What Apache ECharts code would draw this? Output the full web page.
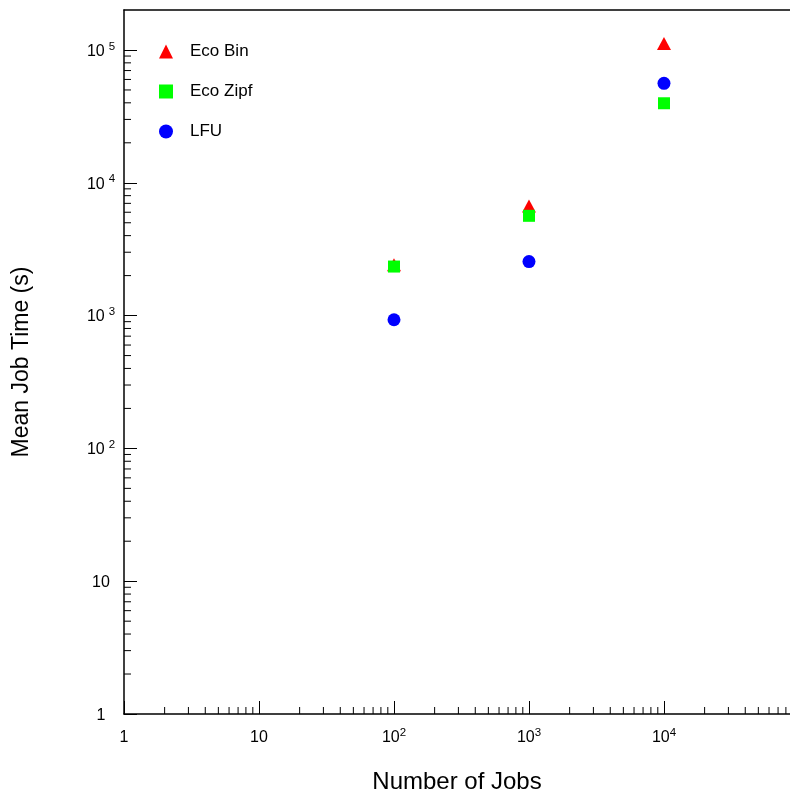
<!DOCTYPE html>
<html>
<head>
<meta charset="utf-8">
<script src="https://cdn.jsdelivr.net/npm/echarts@6/dist/echarts.min.js"></script>
<style>html,body{margin:0;padding:0;background:#fff}#c{width:790px;height:799px}</style>
</head>
<body>
<div id="c"></div>
<script>
// Data (log-log)
const jobs = [100, 1000, 10000];
const ecoBin = [2410, 6700, 112000];
const ecoZipf = [2340, 5640, 39700];
const lfu = [930, 2550, 56100];
const seriesNames = ['Eco Bin', 'Eco Zipf', 'LFU'];

// axis ranges (x axis runs past the right edge of the picture)
const xMin = 1, xMax = 85800;
const yMin = 1, yMax = 200000;

// minor tick values
const xMinor = [];
for (let d = 1; d <= 10000; d *= 10) for (let k = 2; k <= 9; k++) xMinor.push(k * d);
const yMinor = [];
for (let d = 1; d <= 10000; d *= 10) for (let k = 2; k <= 9; k++) yMinor.push(k * d);

const FONT = 'Liberation Sans, Arial, sans-serif';

function supLabel(v, gap) {
  const e = Math.round(Math.log10(v));
  if (e === 0) return '{b|1}';
  if (e === 1) return '{b|10}';
  return '{b|10}' + (gap ? '{g|}' : '') + '{s|' + e + '}';
}
const rich = {
  b: { fontSize: 16, fontFamily: FONT, color: '#000', verticalAlign: 'bottom', lineHeight: 19 },
  s: { fontSize: 11.5, fontFamily: FONT, color: '#000', verticalAlign: 'top', lineHeight: 19 },
  g: { width: 4 }
};

const chart = echarts.init(document.getElementById('c'), null, { renderer: 'canvas' });
chart.setOption({
  animation: false,
  backgroundColor: '#fff',
  grid: { left: 124, top: 10, right: 0, bottom: 84.5 },
  legend: {
    data: seriesNames,
    orient: 'vertical',
    left: 154, top: 38,
    itemWidth: 14, itemHeight: 14, itemGap: 23,
    textStyle: { fontSize: 17, lineHeight: 14, fontFamily: FONT, color: '#000', padding: [0, 0, 0, 12] }
  },
  xAxis: [{
    type: 'log', logBase: 10, min: xMin, max: xMax,
    name: 'Number of Jobs', nameLocation: 'middle', nameGap: 56,
    nameTextStyle: { fontSize: 24, fontFamily: FONT, color: '#000' },
    axisLine: { lineStyle: { color: '#000', width: 1.5 } },
    axisTick: { inside: true, length: 13, lineStyle: { color: '#000', width: 1 } },
    splitLine: { show: false },
    axisLabel: { margin: 13, formatter: v => supLabel(v, false), rich: rich, showMaxLabel: false }
  }, {
    type: 'log', logBase: 10, min: xMin, max: xMax, position: 'top',
    axisLine: { lineStyle: { color: '#000', width: 1.5 } },
    axisTick: { show: false }, axisLabel: { show: false }, splitLine: { show: false }
  }],
  yAxis: {
    type: 'log', logBase: 10, min: yMin, max: yMax,
    name: 'Mean Job Time (s)', nameLocation: 'middle', nameGap: 91,
    nameTextStyle: { fontSize: 23, fontFamily: FONT, color: '#000' },
    axisLine: { lineStyle: { color: '#000', width: 1.5 } },
    axisTick: { inside: true, length: 13, lineStyle: { color: '#000', width: 1 } },
    splitLine: { show: false },
    axisLabel: { margin: 23, align: 'center', formatter: v => supLabel(v, true), rich: rich, showMaxLabel: false }
  },
  series: [
    { name: 'Eco Bin', type: 'scatter', symbol: 'triangle', symbolSize: [14, 13],
      itemStyle: { color: '#ff0000', opacity: 1 }, data: jobs.map((x, i) => [x, ecoBin[i]]) },
    { name: 'Eco Zipf', type: 'scatter', symbol: 'rect', symbolSize: 12,
      itemStyle: { color: '#00ff00', opacity: 1 }, data: jobs.map((x, i) => [x, ecoZipf[i]]) },
    { name: 'LFU', type: 'scatter', symbol: 'circle', symbolSize: 13,
      itemStyle: { color: '#0000ff', opacity: 1 }, data: jobs.map((x, i) => [x, lfu[i]]) },
    { type: 'custom', silent: true, clip: false,
      data: xMinor.map(v => [v]),
      encode: { x: 0 },
      renderItem: (params, api) => {
        const p = api.coord([api.value(0), yMin]);
        return { type: 'line', shape: { x1: p[0], y1: p[1], x2: p[0], y2: p[1] - 7 }, style: { stroke: '#000', lineWidth: 1 } };
      } },
    { type: 'custom', silent: true, clip: false,
      data: yMinor.map(v => [xMin, v]),
      encode: { x: 0, y: 1 },
      renderItem: (params, api) => {
        const p = api.coord([xMin, api.value(1)]);
        return { type: 'line', shape: { x1: p[0], y1: p[1], x2: p[0] + 7, y2: p[1] }, style: { stroke: '#000', lineWidth: 1 } };
      } }
  ]
});
</script>
</body>
</html>
